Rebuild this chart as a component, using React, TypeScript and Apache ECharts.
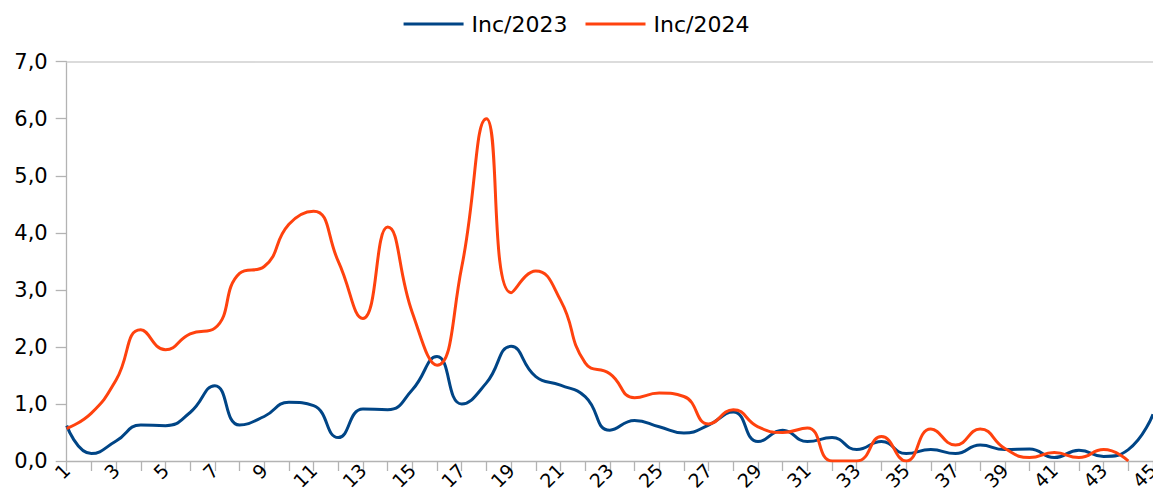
import React, { useEffect, useRef } from "react";
import * as echarts from "echarts";

const categories: string[] = Array.from({ length: 45 }, (_, i) => String(i + 1));

const inc2023: number[] = [
  0.62, 0.13, 0.35, 0.63, 0.62, 0.85, 1.32, 0.63, 0.78, 1.03,
  0.97, 0.41, 0.91, 0.9, 1.25, 1.83, 1.0, 1.37, 2.01, 1.48,
  1.33, 1.13, 0.54, 0.71, 0.6, 0.49, 0.63, 0.86, 0.34, 0.54,
  0.34, 0.41, 0.2, 0.34, 0.13, 0.2, 0.13, 0.28, 0.2, 0.21,
  0.06, 0.19, 0.08, 0.2, 0.82,
];

const inc2024: (number | null)[] = [
  0.57, 0.84, 1.42, 2.3, 1.95, 2.23, 2.33, 3.29, 3.41, 4.15,
  4.38, 3.5, 2.5, 4.1, 2.6, 1.68, 3.4, 6.0, 2.95, 3.33,
  2.82, 1.72, 1.53, 1.11, 1.19, 1.13, 0.65, 0.9, 0.6, 0.5,
  0.58, 0.0, 0.0, 0.43, 0.0, 0.56, 0.28, 0.56, 0.22, 0.06,
  0.15, 0.06, 0.2, 0.0, null,
];

const seriesNames = ["Inc/2023", "Inc/2024"];
const colors = ["#004586", "#ff420e"];
const FONT = "DejaVu Sans";

export default function App() {
  const ref = useRef<HTMLDivElement>(null);
  useEffect(() => {
    if (!ref.current) return;
    const chart = echarts.init(ref.current, undefined, { renderer: "svg" });
    chart.setOption({
      animation: false,
      color: colors,
      textStyle: { fontFamily: FONT },
      legend: {
        top: 8,
        left: "center",
        icon: "rect",
        itemWidth: 60,
        itemHeight: 3,
        itemGap: 18,
        textStyle: { fontSize: 22, color: "#000", fontFamily: FONT, padding: [0, 0, 0, 3] },
        data: seriesNames,
      },
      grid: {
        left: 66.7,
        right: 0,
        top: 61.7,
        bottom: 39,
        containLabel: false,
        outerBoundsMode: "none",
      },
      xAxis: [
        {
          type: "category",
          data: categories,
          boundaryGap: false,
          axisLine: { show: true, lineStyle: { color: "#b3b3b3", width: 1.3 } },
          axisTick: { show: true, interval: 0, length: 10, lineStyle: { color: "#b3b3b3", width: 1.3 } },
          axisLabel: {
            interval: 1,
            rotate: 45,
            margin: 6,
            fontSize: 19,
            color: "#000",
            fontFamily: FONT,
            hideOverlap: false,
          },
          splitLine: { show: false },
        },
        {
          type: "category",
          data: categories,
          position: "top",
          boundaryGap: false,
          axisLine: { show: true, lineStyle: { color: "#d0d0d0", width: 1.5 } },
          axisTick: { show: false },
          axisLabel: { show: false },
          splitLine: { show: false },
        },
      ],
      yAxis: {
        type: "value",
        min: 0,
        max: 7,
        interval: 1,
        axisLine: { show: true, lineStyle: { color: "#b3b3b3", width: 1.3 } },
        axisTick: { show: true, length: 11, lineStyle: { color: "#b3b3b3", width: 1.3 } },
        axisLabel: {
          margin: 19,
          fontSize: 21,
          color: "#000",
          fontFamily: FONT,
          formatter: (v: number) => v.toFixed(1).replace(".", ","),
        },
        splitLine: { show: false },
      },
      series: [
        {
          name: seriesNames[0],
          type: "line",
          data: inc2023,
          smooth: 0.5,
          symbol: "none",
          lineStyle: { width: 3, color: colors[0] },
          itemStyle: { color: colors[0] },
          clip: true,
        },
        {
          name: seriesNames[1],
          type: "line",
          data: inc2024,
          smooth: 0.5,
          symbol: "none",
          lineStyle: { width: 3, color: colors[1] },
          itemStyle: { color: colors[1] },
          clip: true,
        },
      ],
    });
    return () => chart.dispose();
  }, []);
  return (
    <div
      ref={ref}
      style={{ position: "fixed", left: 0, top: 0, width: 1153, height: 500, background: "#fff" }}
    />
  );
}
